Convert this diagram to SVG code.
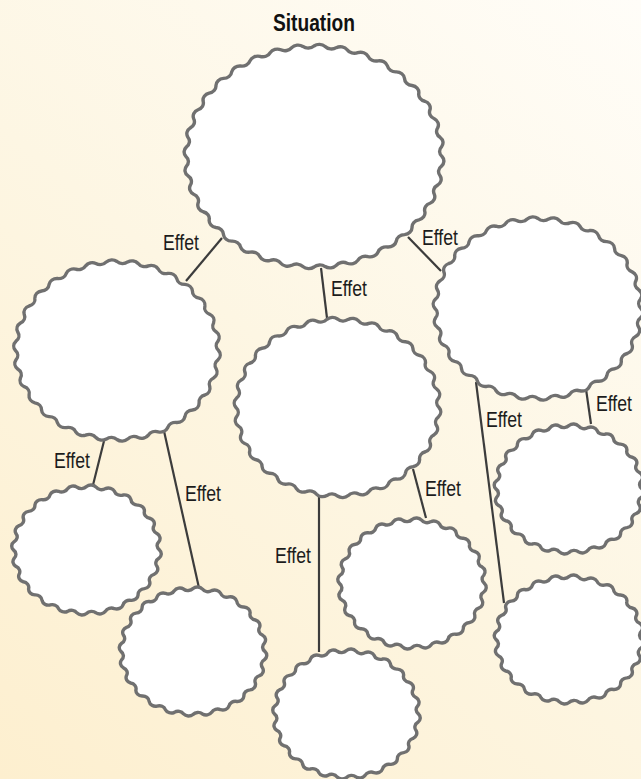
<svg xmlns="http://www.w3.org/2000/svg" xmlns:xlink="http://www.w3.org/1999/xlink" width="641" height="779" viewBox="0 0 641 779">
<style>
.wave{fill:#ffffff;stroke:#707070;stroke-width:3.4;vector-effect:non-scaling-stroke;stroke-linejoin:round}
.conn line{stroke:#3c3c3c;stroke-width:2.2;stroke-linecap:butt}
.lbl{font-family:"Liberation Sans",Arial,sans-serif;font-size:22.5px;fill:#1c1c1c}
.title{font-family:"Liberation Sans",Arial,sans-serif;font-size:24px;font-weight:bold;fill:#111111}
</style>
<defs>
<linearGradient id="bg" x1="641" y1="0" x2="0" y2="779" gradientUnits="userSpaceOnUse">
<stop offset="0" stop-color="#fffdf8"/>
<stop offset="0.5" stop-color="#fdf6e3"/>
<stop offset="1" stop-color="#fdefcf"/>
</linearGradient>
<path id="wS" class="wave" d="M100 0 A9 9 0 0 1 99.1 13.1 9 9 0 0 0 96.6 25.9 9 9 0 0 1 92.4 38.3 9 9 0 0 0 86.6 50 9 9 0 0 1 79.3 60.9 9 9 0 0 0 70.7 70.7 9 9 0 0 1 60.9 79.3 9 9 0 0 0 50 86.6 9 9 0 0 1 38.3 92.4 9 9 0 0 0 25.9 96.6 9 9 0 0 1 13.1 99.1 9 9 0 0 0 0 100 9 9 0 0 1 -13.1 99.1 9 9 0 0 0 -25.9 96.6 9 9 0 0 1 -38.3 92.4 9 9 0 0 0 -50 86.6 9 9 0 0 1 -60.9 79.3 9 9 0 0 0 -70.7 70.7 9 9 0 0 1 -79.3 60.9 9 9 0 0 0 -86.6 50 9 9 0 0 1 -92.4 38.3 9 9 0 0 0 -96.6 25.9 9 9 0 0 1 -99.1 13.1 9 9 0 0 0 -100 0 9 9 0 0 1 -99.1 -13.1 9 9 0 0 0 -96.6 -25.9 9 9 0 0 1 -92.4 -38.3 9 9 0 0 0 -86.6 -50 9 9 0 0 1 -79.3 -60.9 9 9 0 0 0 -70.7 -70.7 9 9 0 0 1 -60.9 -79.3 9 9 0 0 0 -50 -86.6 9 9 0 0 1 -38.3 -92.4 9 9 0 0 0 -25.9 -96.6 9 9 0 0 1 -13.1 -99.1 9 9 0 0 0 0 -100 9 9 0 0 1 13.1 -99.1 9 9 0 0 0 25.9 -96.6 9 9 0 0 1 38.3 -92.4 9 9 0 0 0 50 -86.6 9 9 0 0 1 60.9 -79.3 9 9 0 0 0 70.7 -70.7 9 9 0 0 1 79.3 -60.9 9 9 0 0 0 86.6 -50 9 9 0 0 1 92.4 -38.3 9 9 0 0 0 96.6 -25.9 9 9 0 0 1 99.1 -13.1 9 9 0 0 0 100 0Z"/>
<path id="wM" class="wave" d="M100 0 A8 8 0 0 1 99.5 10.5 8 8 0 0 0 97.8 20.8 8 8 0 0 1 95.1 30.9 8 8 0 0 0 91.4 40.7 8 8 0 0 1 86.6 50 8 8 0 0 0 80.9 58.8 8 8 0 0 1 74.3 66.9 8 8 0 0 0 66.9 74.3 8 8 0 0 1 58.8 80.9 8 8 0 0 0 50 86.6 8 8 0 0 1 40.7 91.4 8 8 0 0 0 30.9 95.1 8 8 0 0 1 20.8 97.8 8 8 0 0 0 10.5 99.5 8 8 0 0 1 0 100 8 8 0 0 0 -10.5 99.5 8 8 0 0 1 -20.8 97.8 8 8 0 0 0 -30.9 95.1 8 8 0 0 1 -40.7 91.4 8 8 0 0 0 -50 86.6 8 8 0 0 1 -58.8 80.9 8 8 0 0 0 -66.9 74.3 8 8 0 0 1 -74.3 66.9 8 8 0 0 0 -80.9 58.8 8 8 0 0 1 -86.6 50 8 8 0 0 0 -91.4 40.7 8 8 0 0 1 -95.1 30.9 8 8 0 0 0 -97.8 20.8 8 8 0 0 1 -99.5 10.5 8 8 0 0 0 -100 0 8 8 0 0 1 -99.5 -10.5 8 8 0 0 0 -97.8 -20.8 8 8 0 0 1 -95.1 -30.9 8 8 0 0 0 -91.4 -40.7 8 8 0 0 1 -86.6 -50 8 8 0 0 0 -80.9 -58.8 8 8 0 0 1 -74.3 -66.9 8 8 0 0 0 -66.9 -74.3 8 8 0 0 1 -58.8 -80.9 8 8 0 0 0 -50 -86.6 8 8 0 0 1 -40.7 -91.4 8 8 0 0 0 -30.9 -95.1 8 8 0 0 1 -20.8 -97.8 8 8 0 0 0 -10.5 -99.5 8 8 0 0 1 0 -100 8 8 0 0 0 10.5 -99.5 8 8 0 0 1 20.8 -97.8 8 8 0 0 0 30.9 -95.1 8 8 0 0 1 40.7 -91.4 8 8 0 0 0 50 -86.6 8 8 0 0 1 58.8 -80.9 8 8 0 0 0 66.9 -74.3 8 8 0 0 1 74.3 -66.9 8 8 0 0 0 80.9 -58.8 8 8 0 0 1 86.6 -50 8 8 0 0 0 91.4 -40.7 8 8 0 0 1 95.1 -30.9 8 8 0 0 0 97.8 -20.8 8 8 0 0 1 99.5 -10.5 8 8 0 0 0 100 0Z"/>
<path id="wL" class="wave" d="M100 0 A6.5 6.5 0 0 1 99.6 8.7 6.5 6.5 0 0 0 98.5 17.4 6.5 6.5 0 0 1 96.6 25.9 6.5 6.5 0 0 0 94 34.2 6.5 6.5 0 0 1 90.6 42.3 6.5 6.5 0 0 0 86.6 50 6.5 6.5 0 0 1 81.9 57.4 6.5 6.5 0 0 0 76.6 64.3 6.5 6.5 0 0 1 70.7 70.7 6.5 6.5 0 0 0 64.3 76.6 6.5 6.5 0 0 1 57.4 81.9 6.5 6.5 0 0 0 50 86.6 6.5 6.5 0 0 1 42.3 90.6 6.5 6.5 0 0 0 34.2 94 6.5 6.5 0 0 1 25.9 96.6 6.5 6.5 0 0 0 17.4 98.5 6.5 6.5 0 0 1 8.7 99.6 6.5 6.5 0 0 0 0 100 6.5 6.5 0 0 1 -8.7 99.6 6.5 6.5 0 0 0 -17.4 98.5 6.5 6.5 0 0 1 -25.9 96.6 6.5 6.5 0 0 0 -34.2 94 6.5 6.5 0 0 1 -42.3 90.6 6.5 6.5 0 0 0 -50 86.6 6.5 6.5 0 0 1 -57.4 81.9 6.5 6.5 0 0 0 -64.3 76.6 6.5 6.5 0 0 1 -70.7 70.7 6.5 6.5 0 0 0 -76.6 64.3 6.5 6.5 0 0 1 -81.9 57.4 6.5 6.5 0 0 0 -86.6 50 6.5 6.5 0 0 1 -90.6 42.3 6.5 6.5 0 0 0 -94 34.2 6.5 6.5 0 0 1 -96.6 25.9 6.5 6.5 0 0 0 -98.5 17.4 6.5 6.5 0 0 1 -99.6 8.7 6.5 6.5 0 0 0 -100 0 6.5 6.5 0 0 1 -99.6 -8.7 6.5 6.5 0 0 0 -98.5 -17.4 6.5 6.5 0 0 1 -96.6 -25.9 6.5 6.5 0 0 0 -94 -34.2 6.5 6.5 0 0 1 -90.6 -42.3 6.5 6.5 0 0 0 -86.6 -50 6.5 6.5 0 0 1 -81.9 -57.4 6.5 6.5 0 0 0 -76.6 -64.3 6.5 6.5 0 0 1 -70.7 -70.7 6.5 6.5 0 0 0 -64.3 -76.6 6.5 6.5 0 0 1 -57.4 -81.9 6.5 6.5 0 0 0 -50 -86.6 6.5 6.5 0 0 1 -42.3 -90.6 6.5 6.5 0 0 0 -34.2 -94 6.5 6.5 0 0 1 -25.9 -96.6 6.5 6.5 0 0 0 -17.4 -98.5 6.5 6.5 0 0 1 -8.7 -99.6 6.5 6.5 0 0 0 0 -100 6.5 6.5 0 0 1 8.7 -99.6 6.5 6.5 0 0 0 17.4 -98.5 6.5 6.5 0 0 1 25.9 -96.6 6.5 6.5 0 0 0 34.2 -94 6.5 6.5 0 0 1 42.3 -90.6 6.5 6.5 0 0 0 50 -86.6 6.5 6.5 0 0 1 57.4 -81.9 6.5 6.5 0 0 0 64.3 -76.6 6.5 6.5 0 0 1 70.7 -70.7 6.5 6.5 0 0 0 76.6 -64.3 6.5 6.5 0 0 1 81.9 -57.4 6.5 6.5 0 0 0 86.6 -50 6.5 6.5 0 0 1 90.6 -42.3 6.5 6.5 0 0 0 94 -34.2 6.5 6.5 0 0 1 96.6 -25.9 6.5 6.5 0 0 0 98.5 -17.4 6.5 6.5 0 0 1 99.6 -8.7 6.5 6.5 0 0 0 100 0Z"/>
</defs>
<rect x="0" y="0" width="641" height="779" fill="url(#bg)"/>
<text class="title" x="273" y="31" textLength="82" lengthAdjust="spacingAndGlyphs">Situation</text>
<g id="connectors" class="conn">
<line x1="222" y1="238" x2="186" y2="281"/>
<line x1="321" y1="268" x2="327" y2="318"/>
<line x1="408" y1="237" x2="441" y2="271"/>
<line x1="104" y1="441" x2="93" y2="485"/>
<line x1="164" y1="431" x2="199" y2="588"/>
<line x1="319" y1="496" x2="319" y2="652"/>
<line x1="413" y1="469" x2="426" y2="518"/>
<line x1="586" y1="389" x2="591" y2="424"/>
<line x1="476" y1="382" x2="504" y2="603"/>
</g>
<g id="node-situation"><use xlink:href="#wL" href="#wL" transform="translate(314 156.5) scale(1.28 1.105)"/></g>
<g id="node-left"><use xlink:href="#wM" href="#wM" transform="translate(117 350.5) scale(1.015 0.89)"/></g>
<g id="node-middle"><use xlink:href="#wM" href="#wM" transform="translate(337.5 407.5) scale(1.015 0.885)"/></g>
<g id="node-right"><use xlink:href="#wM" href="#wM" transform="translate(538 308.5) scale(1.03 0.9)"/></g>
<g id="node-left-a"><use xlink:href="#wS" href="#wS" transform="translate(86.5 550) scale(0.73 0.635)"/></g>
<g id="node-left-b"><use xlink:href="#wS" href="#wS" transform="translate(193 651.5) scale(0.72 0.63)"/></g>
<g id="node-middle-a"><use xlink:href="#wS" href="#wS" transform="translate(412 583.5) scale(0.725 0.64)"/></g>
<g id="node-middle-b"><use xlink:href="#wS" href="#wS" transform="translate(346.5 714) scale(0.72 0.635)"/></g>
<g id="node-right-a"><use xlink:href="#wS" href="#wS" transform="translate(569 489) scale(0.73 0.635)"/></g>
<g id="node-right-b"><use xlink:href="#wS" href="#wS" transform="translate(569 639.5) scale(0.73 0.63)"/></g>
<g id="connector-labels">
<text class="lbl" x="163" y="250" textLength="36" lengthAdjust="spacingAndGlyphs">Effet</text>
<text class="lbl" x="331" y="296" textLength="36" lengthAdjust="spacingAndGlyphs">Effet</text>
<text class="lbl" x="422" y="245" textLength="36" lengthAdjust="spacingAndGlyphs">Effet</text>
<text class="lbl" x="54" y="468" textLength="36" lengthAdjust="spacingAndGlyphs">Effet</text>
<text class="lbl" x="185" y="501" textLength="36" lengthAdjust="spacingAndGlyphs">Effet</text>
<text class="lbl" x="275" y="563" textLength="36" lengthAdjust="spacingAndGlyphs">Effet</text>
<text class="lbl" x="425" y="496" textLength="36" lengthAdjust="spacingAndGlyphs">Effet</text>
<text class="lbl" x="486" y="427" textLength="36" lengthAdjust="spacingAndGlyphs">Effet</text>
<text class="lbl" x="596" y="411" textLength="36" lengthAdjust="spacingAndGlyphs">Effet</text>
</g>
</svg>
